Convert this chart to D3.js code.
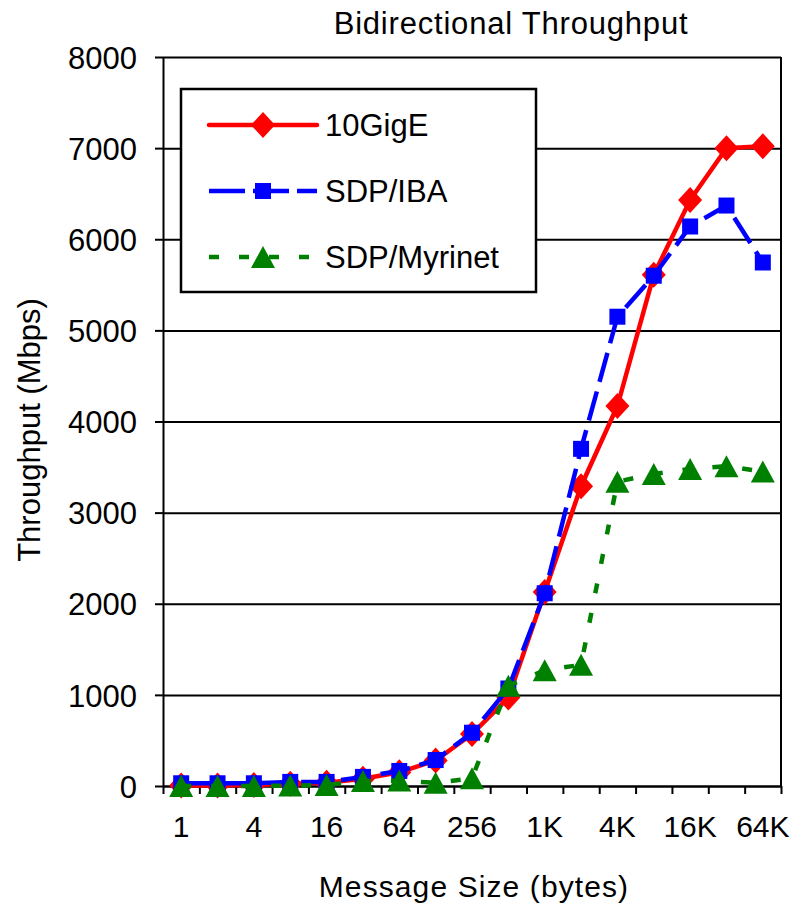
<!DOCTYPE html>
<html>
<head>
<meta charset="utf-8">
<script src="https://cdn.jsdelivr.net/npm/d3@7"></script>
<style>
  body { margin: 0; background: #fff; }
  svg text { font-family: "Liberation Sans", Arial, sans-serif; fill: #000; }
</style>
</head>
<body>
<svg id="grafico"></svg>
<script>
// tamanhos de mensagem (eixo x)
let tamanhos = ["1","2","4","8","16","32","64","128","256","512","1K","2K","4K","8K","16K","32K","64K"];
let rotulosX = ["1","4","16","64","256","1K","4K","16K","64K"];
let ticksY = [0,1000,2000,3000,4000,5000,6000,7000,8000];

// valores (Mbps)
let gigE = [5,5,10,25,35,80,150,280,570,970,2130,3290,4170,5610,6430,7000,7020];
let sdpIBA = [30,30,30,45,45,100,165,285,585,1070,2115,3700,5150,5600,6140,6370,5745];
let sdpMyrinet = [0,0,0,5,10,55,60,35,85,1100,1270,1330,3340,3425,3480,3510,3450];

let series = [
  {nome: "10GigE", valores: gigE, cor: "#ff0000", dash: null, marca: "diamante"},
  {nome: "SDP/IBA", valores: sdpIBA, cor: "#0000ff", dash: "30,10", marca: "quadrado"},
  {nome: "SDP/Myrinet", valores: sdpMyrinet, cor: "#008000", dash: "10,20", marca: "triangulo"}
];

let width = 797, height = 903;
let esq = 163, dir = 781, topo = 57, base = 786;

let svg = d3.select("#grafico")
  .attr("width", width)
  .attr("height", height);

let x = d3.scaleBand().domain(tamanhos).range([esq, dir]);
let xLin = d3.scaleLinear().domain([0, tamanhos.length]).range([esq, dir]);
let y = d3.scaleLinear().domain([0, 8000]).range([base, topo]);

// linhas de grade
svg.append("g")
  .attr("transform", "translate(" + esq + ",0)")
  .call(d3.axisLeft(y).tickValues(ticksY).tickSize(-(dir - esq)).tickFormat(""))
  .call(g => g.select(".domain").remove())
  .selectAll("line").attr("stroke", "#000").attr("stroke-width", 2);

// borda direita
svg.append("line")
  .attr("x1", dir).attr("x2", dir).attr("y1", topo).attr("y2", base)
  .attr("stroke", "#000").attr("stroke-width", 2);

// eixo y
let eixoY = svg.append("g")
  .attr("transform", "translate(" + esq + ",0)")
  .call(d3.axisLeft(y).tickValues(ticksY).tickFormat(d3.format("d")).tickSize(8).tickPadding(18).tickSizeOuter(0));
eixoY.select(".domain").attr("stroke-width", 2);
eixoY.selectAll("line").attr("stroke-width", 2);
eixoY.selectAll("text").style("font-size", "31px").attr("dy", "0.36em");

// marcas do eixo x (nas divisas das categorias)
let eixoX = svg.append("g")
  .attr("transform", "translate(0," + base + ")")
  .call(d3.axisBottom(xLin).ticks(tamanhos.length).tickSize(8).tickFormat("").tickSizeOuter(0));
eixoX.select(".domain").attr("stroke-width", 2);
eixoX.selectAll("line").attr("stroke-width", 2);

// rotulos do eixo x
svg.append("g")
  .attr("transform", "translate(0," + base + ")")
  .call(d3.axisBottom(x).tickValues(rotulosX).tickSize(0).tickPadding(30))
  .call(g => g.select(".domain").remove())
  .selectAll("text").style("font-size", "30px");

// titulos
svg.append("text")
  .attr("x", 511).attr("y", 34)
  .attr("text-anchor", "middle")
  .style("font-size", "31px").style("letter-spacing", "0.8px")
  .text("Bidirectional Throughput");

svg.append("text")
  .attr("x", 474).attr("y", 897)
  .attr("text-anchor", "middle")
  .style("font-size", "30px").style("letter-spacing", "1.1px")
  .text("Message Size (bytes)");

svg.append("text")
  .attr("transform", "translate(40,430) rotate(-90)")
  .attr("text-anchor", "middle")
  .style("font-size", "31px")
  .text("Throughput (Mbps)");

function desenhaMarca(sel, tipo, cor) {
  if (tipo == "diamante") {
    sel.append("path").attr("d", "M0,-13L12,0L0,13L-12,0Z").attr("fill", cor);
  } else if (tipo == "quadrado") {
    sel.append("rect").attr("x", -8).attr("y", -8).attr("width", 16).attr("height", 16).attr("fill", cor);
  } else {
    sel.append("path").attr("d", "M0,-11L12,11L-12,11Z").attr("fill", cor);
  }
}

let linha = d3.line()
  .x((d, i) => x(tamanhos[i]) + x.bandwidth() / 2)
  .y(d => y(d));

series.forEach(function(s) {
  svg.append("path")
    .datum(s.valores)
    .attr("d", linha)
    .attr("fill", "none")
    .attr("stroke", s.cor)
    .attr("stroke-width", 4.5)
    .attr("stroke-dasharray", s.dash);

  svg.append("g").selectAll("g")
    .data(s.valores)
    .enter().append("g")
    .attr("transform", (d, i) => "translate(" + (x(tamanhos[i]) + x.bandwidth() / 2) + "," + y(d) + ")")
    .each(function() { desenhaMarca(d3.select(this), s.marca, s.cor); });
});

// legenda
let legenda = svg.append("g");
legenda.append("rect")
  .attr("x", 181).attr("y", 89).attr("width", 355).attr("height", 203)
  .attr("fill", "#fff").attr("stroke", "#000").attr("stroke-width", 2.5);

let legY = d3.scalePoint().domain(series.map(s => s.nome)).range([125, 257]);

series.forEach(function(s) {
  let g = legenda.append("g").attr("transform", "translate(0," + legY(s.nome) + ")");
  g.append("line")
    .attr("x1", 209).attr("x2", 317)
    .attr("stroke", s.cor).attr("stroke-width", 4.5)
    .attr("stroke-linecap", s.dash ? "butt" : "round")
    .attr("stroke-dasharray", s.nome == "SDP/IBA" ? "36,8" : s.dash);
  desenhaMarca(g.append("g").attr("transform", "translate(263,0)"), s.marca, s.cor);
  g.append("text")
    .attr("x", 325).attr("y", 11)
    .style("font-size", "31px")
    .text(s.nome);
});
</script>
</body>
</html>
